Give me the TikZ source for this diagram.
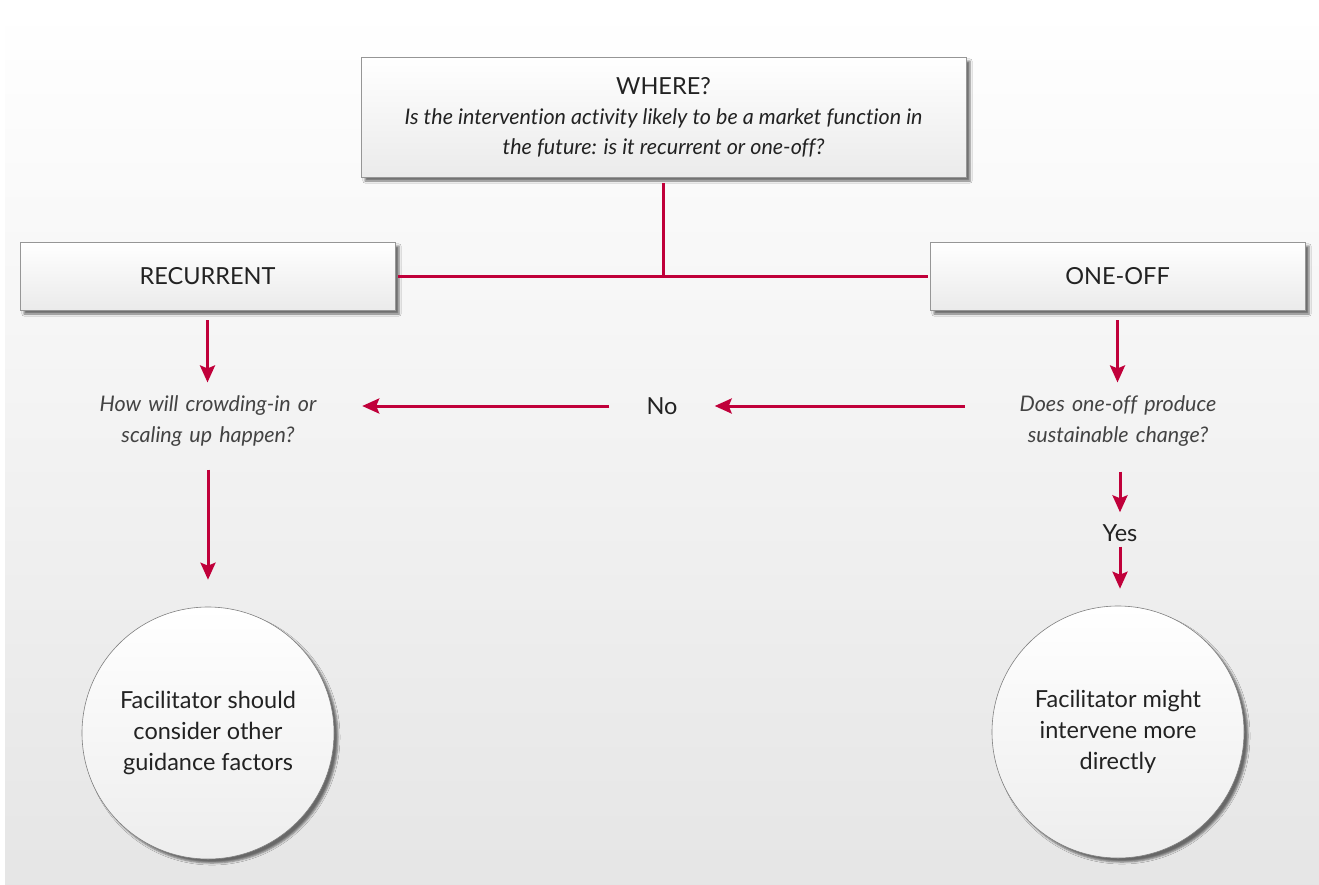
\documentclass[tikz,border=0pt]{standalone}
\usepackage{fontspec}
\setmainfont{Lato}[Ligatures=NoCommon]
\usetikzlibrary{positioning,shadows.blur,arrows.meta}
\definecolor{crim}{RGB}{192,0,58}
\definecolor{boxline}{RGB}{150,150,150}
\definecolor{ink}{RGB}{34,34,34}

\begin{document}
\begin{tikzpicture}[x=1pt,y=-1pt,
    f/.style={-{Stealth[length=17pt,width=15pt,inset=3pt]},line width=3pt,crim},%
    l/.style={line width=3pt,crim},%
    bx/.style={draw=boxline,line width=0.8pt,top color=white,bottom color=gray!16,
      blur shadow={shadow xshift=4pt,shadow yshift=-4pt,shadow opacity=55},
      text=ink,font=\fontsize{23.5}{30}\selectfont,align=center},%
    circ/.style={circle,draw=gray,line width=0.6pt,minimum size=252pt,top color=white,bottom color=gray!14,
      blur shadow={shadow xshift=4pt,shadow yshift=-4pt,shadow opacity=55},
      text=ink,font=\fontsize{23.5}{31}\selectfont,align=center},%
    q/.style={font=\fontsize{21.5}{31}\selectfont\itshape,text=ink!85,text width=260pt,align=center,inner sep=0pt},%
    p/.style={font=\fontsize{23.5}{26}\selectfont,text=ink,inner sep=0pt}]
    \useasboundingbox (0,0) rectangle (1319,884);
    \fill[top color=white,bottom color=gray!20] (5,8) rectangle (1319,884);

    \node[bx,minimum width=605pt,minimum height=120pt] (where) at (663.5,117)
      {WHERE?\\ \itshape\fontsize{21.5}{30}\selectfont Is the intervention activity likely to be a market function in\\ \itshape\fontsize{21.5}{30}\selectfont the future: is it recurrent or one-off?};
    \node[bx,minimum width=375pt,minimum height=68pt] (rec) at (207.5,276) {RECURRENT};
    \node[bx,minimum width=375pt,minimum height=68pt] (one) at (1117.5,276) {ONE-OFF};

    \node[q] (qrec) at (208,421) {How will crowding-in or\\ scaling up happen?};
    \node[q] (qone) at (1118,421) {Does one-off produce\\ sustainable change?};
    \node[p,minimum width=105pt] (no) at (662,406) {No};
    \node[p] (yes) at (1120,533) {Yes};

    \node[circ] (cfac) at (208,733) {Facilitator should\\ consider other\\ guidance factors};
    \node[circ] (cdir) at (1118,732) {Facilitator might\\ intervene more\\ directly};

    % T from the question to both answers
    \draw[l,shorten <=6pt] (where.south) -- (where.south |- rec.east);
    \draw[l,shorten <=3pt,shorten >=2pt] (rec.east) -- (one.west);

    \draw[f,shorten <=10pt,shorten >=13pt] (rec.south) -- (rec.south |- qrec.north);
    \draw[f,shorten <=10pt,shorten >=13pt] (one.south) -- (one.south |- qone.north);
    \draw[f,shorten <=23pt] (qone.west |- no.east) -- (no.east);
    \draw[f,shorten >=24pt] (no.west) -- (qrec.east |- no.west);
    \draw[f,shorten <=23pt,shorten >=27pt] (qrec.south) -- (cfac.north);
    \draw[f,shorten <=25pt,shorten >=12pt] (qone.south -| yes.north) -- (yes.north);
    \draw[f,shorten <=5pt,shorten >=17pt] (yes.south) -- (yes.south |- cdir.north);
\end{tikzpicture}
\end{document}
